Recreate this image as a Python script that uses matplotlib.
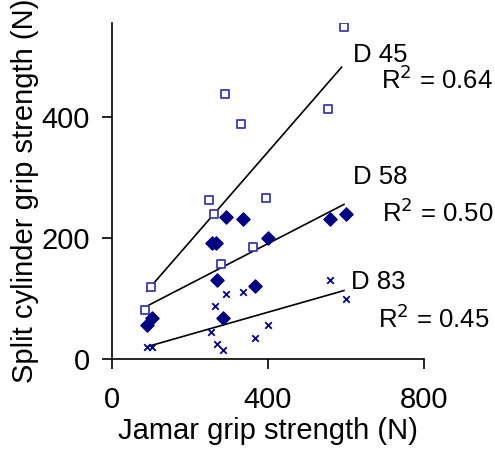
import matplotlib
matplotlib.use('Agg')
import matplotlib.pyplot as plt
import numpy as np

plt.rcParams['font.family'] = ['Liberation Sans', 'DejaVu Sans']

# D 45 (open squares)
x45 = [594, 289, 332, 555, 250, 261, 395, 361, 280, 100, 86]
y45 = [548, 437, 388, 412, 262, 240, 265, 185, 157, 118, 81]
# D 58 (filled diamonds)
x58 = [293, 337, 257, 266, 400, 560, 600, 269, 366, 284, 104, 91]
y58 = [234, 231, 191, 191, 200, 231, 240, 130, 120, 68, 68, 56]
# D 83 (crosses)
x83 = [90, 103, 265, 294, 337, 255, 269, 284, 366, 400, 560, 600]
y83 = [19, 19, 87, 108, 110, 44, 25, 15, 34, 56, 130, 99]

labels = ['D 45', 'D 58', 'D 83']
r2 = ['0.64', '0.50', '0.45']

fig = plt.figure(figsize=(4.95, 4.58), dpi=100)
ax = fig.add_axes([0.2256, 0.2162, 0.631, 0.7342])

ax.scatter(x45, y45, marker='s', s=30, facecolors='white', edgecolors='#3b3ba8', linewidths=1.3, zorder=3)
ax.scatter(x58, y58, marker='D', s=45, color='#000080', zorder=3)
ax.scatter(x83, y83, marker='x', s=22, color='#000080', linewidths=1.3, zorder=3)

for xs, ys in [(x45, y45), (x58, y58), (x83, y83)]:
    xs = np.array(xs)
    k, b = np.polyfit(xs, ys, 1)
    xx = np.array([xs.min() + 4, xs.max() - 5])
    ax.plot(xx, k * xx + b, color='black', lw=1.2, zorder=2)

fs = 18.5
ax.text(617, 501, labels[0], fontsize=fs, va='center', ha='left')
ax.text(977, 461, 'R$^2$ = ' + r2[0], fontsize=fs, va='center', ha='right')
ax.text(617, 300, labels[1], fontsize=fs, va='center', ha='left')
ax.text(977, 241, 'R$^2$ = ' + r2[1], fontsize=fs, va='center', ha='right')
ax.text(612, 127, labels[2], fontsize=fs, va='center', ha='left')
ax.text(967, 67, 'R$^2$ = ' + r2[2], fontsize=fs, va='center', ha='right')

ax.set_xlim(0, 800)
ax.set_ylim(0, 555)
ax.set_xticks([0, 400, 800])
ax.set_yticks([0, 200, 400])
ax.spines['top'].set_visible(False)
ax.spines['right'].set_visible(False)
for s in ['left', 'bottom']:
    ax.spines[s].set_linewidth(1.2)
ax.tick_params(axis='both', length=7.5, width=1.2, labelsize=21)
ax.tick_params(axis='x', pad=12)
ax.tick_params(axis='y', pad=8)
ax.set_xlabel('Jamar grip strength (N)', fontsize=21, labelpad=2)
ax.set_ylabel('Split cylinder grip strength (N)', fontsize=21, labelpad=2)

fig.savefig('out.png', dpi=100)
